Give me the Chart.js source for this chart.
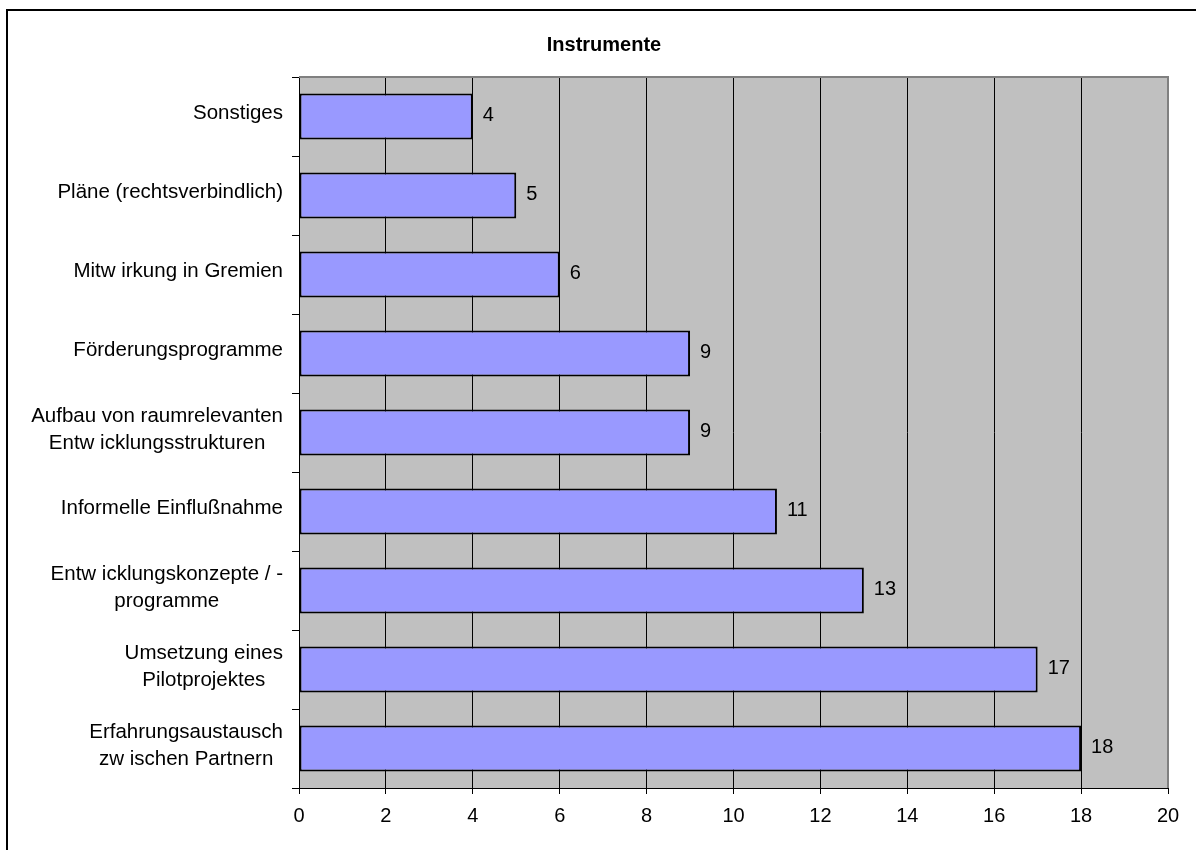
<!DOCTYPE html>
<html>
<head>
<meta charset="utf-8">
<script src="https://cdn.jsdelivr.net/npm/chart.js@4"></script>
<style>
  html, body { margin: 0; padding: 0; background: #fff; }
  canvas { display: block; }
</style>
</head>
<body>
<canvas id="c" width="1196" height="850"></canvas>
<script>
const chartTitle = 'Instrumente';
const categories = [
  ['Sonstiges'],
  ['Pläne (rechtsverbindlich)'],
  ['Mitw irkung in Gremien'],
  ['Förderungsprogramme'],
  ['Aufbau von raumrelevanten', 'Entw icklungsstrukturen'],
  ['Informelle Einflußnahme'],
  ['Entw icklungskonzepte / -', 'programme'],
  ['Umsetzung eines', 'Pilotprojektes'],
  ['Erfahrungsaustausch', 'zw ischen Partnern']
];
const values = [4, 5, 6, 9, 9, 11, 13, 17, 18];
const xMin = 0, xMax = 20, xStep = 2;

const FONT = '"Liberation Sans", Arial, sans-serif';

const decor = {
  id: 'decor',
  beforeDraw(chart) {
    const ctx = chart.ctx, a = chart.chartArea;
    ctx.save();
    ctx.fillStyle = '#fff';
    ctx.fillRect(0, 0, chart.width, chart.height);
    // outer frame (extends beyond right/bottom edges)
    ctx.strokeStyle = '#000';
    ctx.lineWidth = 2;
    ctx.beginPath();
    ctx.moveTo(7, chart.height + 5);
    ctx.lineTo(7, 10);
    ctx.lineTo(chart.width + 5, 10);
    ctx.stroke();
    // plot background
    ctx.fillStyle = '#C0C0C0';
    ctx.fillRect(a.left, a.top, a.right - a.left, a.bottom - a.top);
    ctx.restore();
  },
  beforeDatasetsDraw(chart) {
    const ctx = chart.ctx, a = chart.chartArea;
    ctx.save();
    ctx.strokeStyle = '#808080';
    ctx.lineWidth = 2;
    ctx.beginPath();
    ctx.moveTo(a.left, a.top);
    ctx.lineTo(a.right, a.top);
    ctx.lineTo(a.right, a.bottom);
    ctx.stroke();
    ctx.restore();
  },
  afterDraw(chart) {
    const ctx = chart.ctx;
    const yScale = chart.scales.y;
    const meta = chart.getDatasetMeta(0);
    ctx.save();
    ctx.fillStyle = '#000';
    ctx.font = '20.5px ' + FONT;
    ctx.textBaseline = 'middle';
    // category labels: block right-aligned, lines centred within block
    const rightEdge = yScale.right - 16;
    const lh = 27;
    categories.forEach((lines, i) => {
      const cy = yScale.getPixelForTick(i) - 3;
      const w = Math.max(...lines.map(l => ctx.measureText(l).width));
      const cx = rightEdge - w / 2;
      ctx.textAlign = 'center';
      lines.forEach((l, j) => {
        ctx.fillText(l, cx, cy + (j - (lines.length - 1) / 2) * lh);
      });
    });
    // value labels
    ctx.font = '20px ' + FONT;
    ctx.textAlign = 'left';
    meta.data.forEach((bar, i) => {
      ctx.fillText(String(values[i]), bar.x + 10, bar.y - 1);
    });
    ctx.restore();
  }
};

new Chart(document.getElementById('c'), {
  type: 'bar',
  data: {
    labels: categories,
    datasets: [{
      data: values,
      backgroundColor: '#9999FF',
      borderColor: '#000000',
      borderWidth: 2,
      borderSkipped: false,
      barPercentage: 0.58,
      categoryPercentage: 1.0
    }]
  },
  options: {
    indexAxis: 'y',
    responsive: false,
    animation: false,
    devicePixelRatio: 1,
    layout: { padding: { left: 40, right: 28, top: 0, bottom: 0 } },
    plugins: {
      legend: { display: false },
      tooltip: { enabled: false },
      title: {
        display: true,
        text: chartTitle,
        color: '#000',
        font: { family: FONT, size: 20, weight: 'bold' },
        padding: { top: 33, bottom: 20 }
      }
    },
    scales: {
      x: {
        type: 'linear',
        min: xMin,
        max: xMax,
        ticks: {
          stepSize: xStep,
          color: '#000',
          font: { family: FONT, size: 20 },
          padding: 10
        },
        grid: {
          color: (c) => (c.index === 0 ? '#000' : (c.tick && c.tick.value === xMax ? '#808080' : '#000')),
          tickColor: '#000',
          lineWidth: 1,
          tickLength: 6,
          drawTicks: true
        },
        border: { color: '#000', width: 1 },
        afterFit(scale) { scale.height = 62; }
      },
      y: {
        type: 'category',
        ticks: { display: false },
        grid: {
          drawOnChartArea: false,
          drawTicks: true,
          tickLength: 7,
          color: '#000',
          offset: true
        },
        border: { color: '#000', width: 1 },
        afterFit(scale) { scale.width = 259; }
      }
    }
  },
  plugins: [decor]
});
</script>
</body>
</html>
